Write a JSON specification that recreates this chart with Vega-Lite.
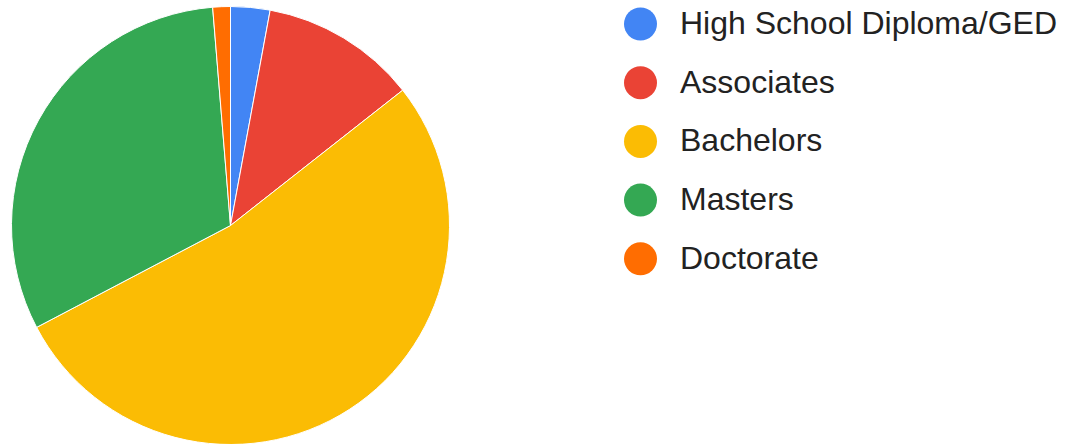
{
  "$schema": "https://vega.github.io/schema/vega-lite/v6.json",
  "width": 461,
  "height": 451,
  "autosize": {"type": "pad"},
  "padding": 0,
  "background": "white",
  "data": {
    "values": [
      {"degree": "High School Diploma/GED", "share": 2.9, "rank": 1},
      {"degree": "Associates", "share": 11.5, "rank": 2},
      {"degree": "Bachelors", "share": 52.9, "rank": 3},
      {"degree": "Masters", "share": 31.4, "rank": 4},
      {"degree": "Doctorate", "share": 1.3, "rank": 5}
    ]
  },
  "mark": {"type": "arc", "outerRadius": 219, "stroke": "#ffffff", "strokeWidth": 1},
  "encoding": {
    "theta": {"field": "share", "type": "quantitative", "stack": true},
    "order": {"field": "rank", "type": "quantitative"},
    "color": {
      "field": "degree",
      "type": "nominal",
      "scale": {
        "domain": ["High School Diploma/GED", "Associates", "Bachelors", "Masters", "Doctorate"],
        "range": ["#4285f4", "#ea4335", "#fbbc04", "#34a853", "#ff6d01"]
      },
      "legend": {
        "title": null,
        "orient": "none",
        "legendX": 624,
        "legendY": 7.5,
        "symbolType": "circle",
        "symbolSize": 1089,
        "symbolStrokeWidth": 0,
        "labelFont": "Liberation Sans",
        "labelFontSize": 32,
        "labelColor": "#222222",
        "labelOffset": 23,
        "labelLimit": 600,
        "rowPadding": 25.7
      }
    }
  },
  "config": {"view": {"stroke": null}}
}
